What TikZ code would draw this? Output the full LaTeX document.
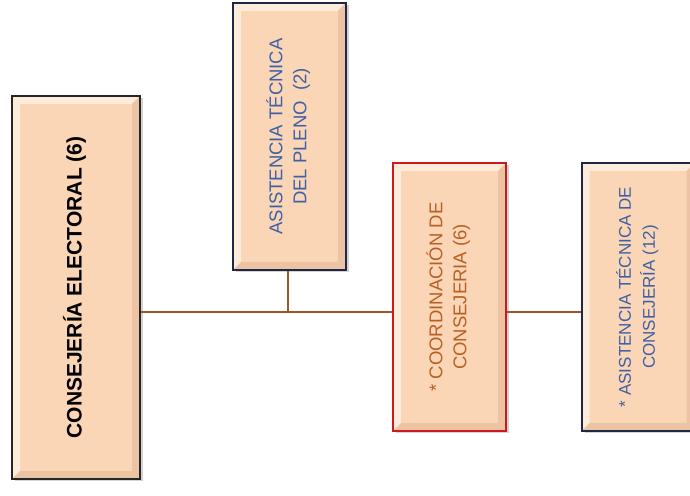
\documentclass[tikz,border=0pt]{standalone}
\usepackage{fontspec}
\setmainfont{Liberation Sans}
\usetikzlibrary{positioning, shadows}
\definecolor{peach}{RGB}{251,214,182}
\definecolor{peachlight}{RGB}{254,236,218}
\definecolor{peachdark}{RGB}{236,196,164}
\definecolor{navy}{RGB}{30,40,70}
\definecolor{boxred}{RGB}{205,25,30}
\definecolor{textblue}{RGB}{62,96,165}
\definecolor{textbrown}{RGB}{185,95,35}
\definecolor{linkbrown}{RGB}{160,85,40}
\newcommand{\vtext}[2]{\rotatebox{90}{\fontsize{#1}{24}\selectfont\begin{tabular}{c}#2\end{tabular}}}
\tikzset{
	x=1pt, y=1pt,
	bevel/.style={path picture={
		\fill[peachlight] (path picture bounding box.north west) -- (path picture bounding box.north east)
			-- ([xshift=-8pt,yshift=-8pt]path picture bounding box.north east) -- ([xshift=8pt,yshift=-8pt]path picture bounding box.north west) -- cycle;
		\fill[peachlight] (path picture bounding box.north west) -- (path picture bounding box.south west)
			-- ([xshift=8pt,yshift=8pt]path picture bounding box.south west) -- ([xshift=8pt,yshift=-8pt]path picture bounding box.north west) -- cycle;
		\fill[peachdark] (path picture bounding box.north east) -- (path picture bounding box.south east)
			-- ([xshift=-8pt,yshift=8pt]path picture bounding box.south east) -- ([xshift=-8pt,yshift=-8pt]path picture bounding box.north east) -- cycle;
		\fill[peachdark] (path picture bounding box.south west) -- (path picture bounding box.south east)
			-- ([xshift=-8pt,yshift=8pt]path picture bounding box.south east) -- ([xshift=8pt,yshift=8pt]path picture bounding box.south west) -- cycle;
	}},
	box/.style={rectangle, draw=navy, line width=1.8pt, fill=peach, inner sep=0pt,
		drop shadow={shadow xshift=3pt, shadow yshift=-2pt, opacity=.35}, bevel},
	link/.style={draw=linkbrown, line width=1.2pt},
}
\begin{document}
\begin{tikzpicture}
	\useasboundingbox (0,0) rectangle (690,495);
	\node[box, draw=black!85, minimum width=128pt, minimum height=383pt] (consejeria) at (76,207.5)
		{\vtext{21}{\bfseries CONSEJERÍA ELECTORAL (6)}};
	\node[box, minimum width=113pt, minimum height=267pt, text=textblue] (pleno) at (289.5,358.5)
		{\vtext{18.5}{ASISTENCIA TÉCNICA\\DEL PLENO\ \ (2)}};
	\node[box, draw=boxred, line width=1.4pt, minimum width=113pt, minimum height=268pt, text=textbrown] (coord) at (449.5,198)
		{\vtext{18.5}{*\ COORDINACIÓN DE\\CONSEJERIA (6)}};
	\node[box, minimum width=113pt, minimum height=268pt, text=textblue, right=74pt of coord] (asist)
		{\vtext{17}{*\ ASISTENCIA TÉCNICA DE\\CONSEJERÍA (12)}};
	% connectors
	\coordinate (bus) at (288,183);
	\draw[link] (consejeria.east |- bus) -- (coord.west |- bus);
	\draw[link] (pleno.south -| bus) -- (bus);
	\draw[link] (coord.east |- bus) -- (asist.west |- bus);
\end{tikzpicture}
\end{document}
